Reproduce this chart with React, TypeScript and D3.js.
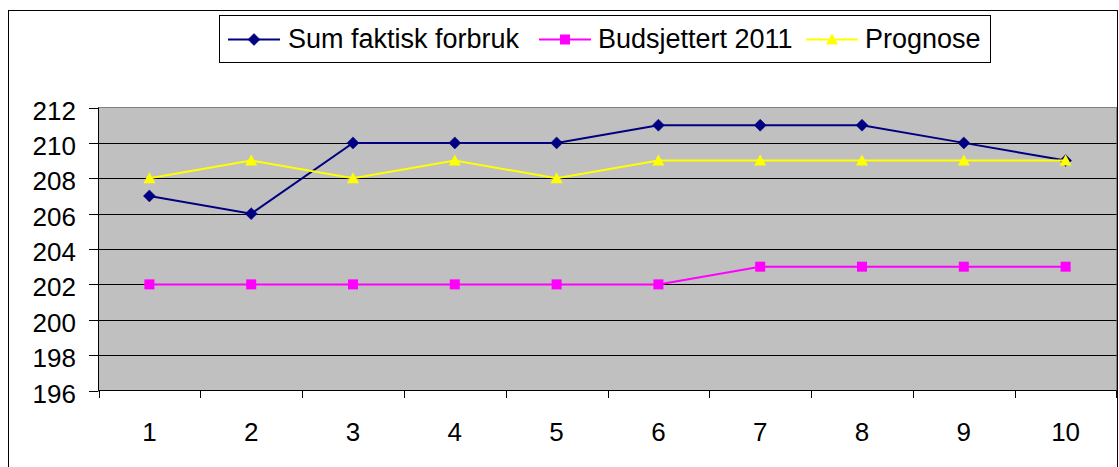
import React from "react";
import * as d3 from "d3";

const categories = ["1", "2", "3", "4", "5", "6", "7", "8", "9", "10"];
const sumFaktisk = [207, 206, 210, 210, 210, 211, 211, 211, 210, 209];
const budsjettert = [202, 202, 202, 202, 202, 202, 203, 203, 203, 203];
const prognose = [208, 209, 208, 209, 208, 209, 209, 209, 209, 209];
const yTicks = [196, 198, 200, 202, 204, 206, 208, 210, 212];
const seriesNames = ["Sum faktisk forbruk", "Budsjettert 2011", "Prognose"];
const seriesColors = ["#000080", "#FF00FF", "#FFFF00"];

const W = 1119;
const H = 467;
const plot = { left: 98.5, right: 1116.5, top: 107.5, bottom: 390.5 };
const FONT = "'Liberation Sans', Arial, sans-serif";

function marker(kind: number, x: number, y: number, color: string, key: string) {
  if (kind === 0) {
    const s = 6;
    return <path key={key} d={`M${x},${y - s}L${x + s},${y}L${x},${y + s}L${x - s},${y}Z`} fill={color} stroke={color} strokeWidth={0.5} />;
  }
  if (kind === 1) {
    const s = 5;
    return <rect key={key} x={x - s} y={y - s} width={2 * s} height={2 * s} fill={color} />;
  }
  const s = 6;
  return <path key={key} d={`M${x},${y - s}L${x + s},${y + 5}L${x - s},${y + 5}Z`} fill={color} />;
}

export default function App() {
  const x = d3.scaleBand<string>().domain(categories).range([plot.left, plot.right]);
  const y = d3.scaleLinear().domain([196, 212]).range([plot.bottom, plot.top]);
  const series = [sumFaktisk, budsjettert, prognose];
  const line = d3
    .line<number>()
    .x((_, i) => (x(categories[i]) as number) + x.bandwidth() / 2)
    .y((d) => y(d));

  const legendItems = [
    { x: 228, tx: 288 },
    { x: 539, tx: 598 },
    { x: 806, tx: 865 },
  ];

  return (
    <svg width={W} height={H} style={{ position: "absolute", left: 0, top: 0 }} fontFamily={FONT}>
      <rect x={0} y={0} width={W} height={H} fill="#fff" />
      <rect x={8.5} y={10.5} width={1109} height={470} fill="#fff" stroke="#000" strokeWidth={1} />
      <rect x={plot.left} y={plot.top} width={plot.right - plot.left} height={plot.bottom - plot.top} fill="#C0C0C0" stroke="#808080" strokeWidth={1} />
      {yTicks.map((t) => (
        <g key={t}>
          {t !== 196 && t !== 212 && (
            <line x1={plot.left} x2={plot.right} y1={Math.round(y(t)) + 0.5} y2={Math.round(y(t)) + 0.5} stroke="#000" strokeWidth={1} />
          )}
          <line x1={89} x2={plot.left} y1={Math.round(y(t)) + 0.5} y2={Math.round(y(t)) + 0.5} stroke="#000" />
          <text x={76} y={y(t) + 12} textAnchor="end" fontSize={26} fill="#000">
            {t}
          </text>
        </g>
      ))}
      <line x1={plot.left} x2={plot.left} y1={plot.top} y2={plot.bottom} stroke="#000" />
      <line x1={plot.left} x2={plot.right} y1={plot.bottom} y2={plot.bottom} stroke="#000" />
      {categories.map((c, i) => (
        <g key={c}>
          <line x1={Math.round(x(c) as number) + 0.5} x2={Math.round(x(c) as number) + 0.5} y1={plot.bottom} y2={398} stroke="#000" />
          {i === categories.length - 1 && (
            <line x1={plot.right} x2={plot.right} y1={plot.bottom} y2={398} stroke="#000" />
          )}
          <text x={(x(c) as number) + x.bandwidth() / 2} y={441} textAnchor="middle" fontSize={26} fill="#000">
            {c}
          </text>
        </g>
      ))}
      {series.map((s, si) => (
        <g key={si}>
          <path d={line(s) as string} fill="none" stroke={seriesColors[si]} strokeWidth={2} />
          {s.map((v, i) => marker(si, (x(categories[i]) as number) + x.bandwidth() / 2, y(v), seriesColors[si], `${si}-${i}`))}
        </g>
      ))}
      <rect x={219.5} y={15.5} width={771} height={47} fill="#fff" stroke="#000" strokeWidth={1} />
      {legendItems.map((li, i) => (
        <g key={i}>
          <line x1={li.x} x2={li.x + 52} y1={39.5} y2={39.5} stroke={seriesColors[i]} strokeWidth={2} />
          {marker(i, li.x + 26, 39.5, seriesColors[i], `l${i}`)}
          <text x={li.tx} y={47.5} fontSize={27} fill="#000">
            {seriesNames[i]}
          </text>
        </g>
      ))}
    </svg>
  );
}
